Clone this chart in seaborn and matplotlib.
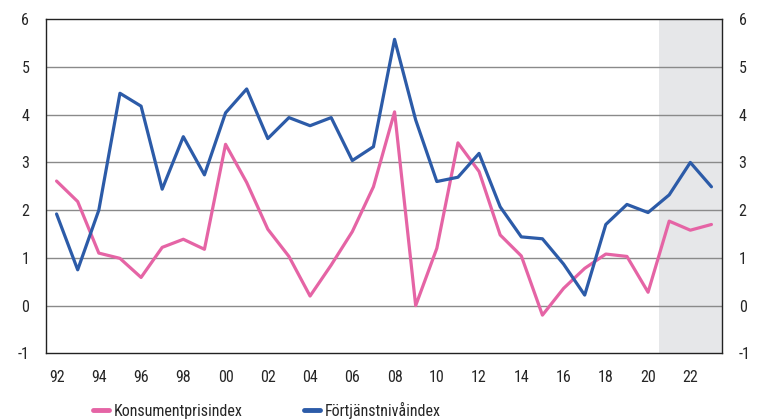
import matplotlib
matplotlib.use("Agg")
import matplotlib.pyplot as plt
import seaborn as sns
import pandas as pd
import numpy as np
from matplotlib.lines import Line2D

years = list(range(1992, 2024))
kpi = [2.61, 2.18, 1.10, 0.99, 0.59, 1.22, 1.39, 1.18, 3.38, 2.58, 1.60, 1.03,
       0.20, 0.85, 1.55, 2.49, 4.06, 0.00, 1.20, 3.41, 2.81, 1.48, 1.04, -0.20,
       0.36, 0.78, 1.08, 1.03, 0.28, 1.77, 1.58, 1.70]
fni = [1.92, 0.75, 2.00, 4.45, 4.18, 2.44, 3.54, 2.74, 4.04, 4.54, 3.50, 3.94,
       3.77, 3.94, 3.04, 3.33, 5.58, 3.89, 2.60, 2.69, 3.19, 2.07, 1.44, 1.40,
       0.87, 0.22, 1.70, 2.12, 1.95, 2.32, 3.00, 2.49]
series_names = ["Konsumentprisindex", "Förtjänstnivåindex"]
tick_years = list(range(1992, 2023, 2))
tick_labels = [f"{y % 100:02d}" for y in tick_years]
y_ticks = list(range(-1, 7))
forecast_start = 2020.5

sns.set_style("white")
plt.rcParams["font.family"] = ["Liberation Sans Narrow", "Roboto Condensed", "Liberation Sans", "DejaVu Sans"]
plt.rcParams["font.size"] = 11.5
plt.rcParams["axes.unicode_minus"] = False

df = pd.DataFrame({
    "year": years * 2,
    "value": kpi + fni,
    "series": [series_names[0]] * len(years) + [series_names[1]] * len(years),
})

fig = plt.figure(figsize=(7.57, 4.19), dpi=100)
ax = fig.add_axes([46 / 757, 1 - 353.3 / 419, (722 - 46) / 757, (353.3 - 19.3) / 419])

ax.axvspan(forecast_start, years[-1] + 0.5, color="#E6E7E9", lw=0, zorder=0)
for yv in y_ticks[1:-1]:
    ax.axhline(yv, color="#8a8a8a", lw=1.0, zorder=1)

palette = {series_names[0]: "#E564A5", series_names[1]: "#2C5BA8"}
sns.lineplot(data=df, x="year", y="value", hue="series", palette=palette,
             lw=2.3, ax=ax, legend=False, zorder=3)

ax.set_xlim(years[0] - 0.5, years[-1] + 0.5)
ax.set_ylim(-1, 6)
ax.set_xlabel("")
ax.set_ylabel("")
ax.set_xticks(tick_years)
ax.set_xticklabels(tick_labels)
ax.set_xticks(np.arange(years[0] - 0.5, years[-1] + 0.51, 1), minor=True)
ax.tick_params(axis="x", which="major", length=0, pad=12)
ax.tick_params(axis="x", which="minor", direction="in", length=5, width=1, color="#222222")
ax.set_yticks(y_ticks)
ax.tick_params(axis="y", length=0, pad=12)
for s in ax.spines.values():
    s.set_color("#222222")
    s.set_linewidth(1.0)
    s.set_visible(True)

ax2 = ax.twinx()
ax2.set_ylim(-1, 6)
ax2.set_yticks(y_ticks)
ax2.tick_params(axis="y", length=0, pad=12)
for s in ax2.spines.values():
    s.set_visible(False)

handles = [Line2D([], [], color=palette[n], lw=3.5) for n in series_names]
fig.legend(handles, series_names, loc="center", bbox_to_anchor=(267 / 757, 1 - 410 / 419),
           ncol=2, frameon=False, handlelength=1.0, handletextpad=0.3, columnspacing=3.8,
           fontsize=11.5)

fig.savefig("out.png", dpi=100)
